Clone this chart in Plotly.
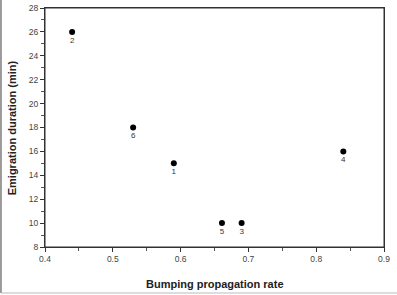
import plotly.graph_objects as go

rates = [0.59, 0.44, 0.69, 0.84, 0.661, 0.53]
durations = [15, 26, 10, 16, 10, 18]
labels = ["1", "2", "3", "4", "5", "6"]

x_ticks = [0.4, 0.5, 0.6, 0.7, 0.8, 0.9]
y_ticks = [8, 10, 12, 14, 16, 18, 20, 22, 24, 26, 28]

FONT = "Arial, Liberation Sans, sans-serif"

fig = go.Figure()
fig.add_trace(go.Scatter(
    x=rates, y=durations, mode="markers+text",
    text=labels, textposition="bottom center",
    textfont=dict(family=FONT, size=8, color="#333"),
    marker=dict(size=6, color="black"),
    showlegend=False, cliponaxis=False, hoverinfo="skip",
))

axis_common = dict(
    showgrid=False, zeroline=False, showline=True, linecolor="#333", linewidth=1,
    mirror=True, ticks="outside", ticklen=4, tickcolor="#333", tickwidth=1,
    tickfont=dict(family=FONT, size=8.5, color="#444"), automargin=False,
)

fig.update_xaxes(
    range=[0.4, 0.9], tickvals=x_ticks, ticktext=[str(v) for v in x_ticks],
    minor=dict(dtick=0.05, tick0=0.4, ticks="outside", ticklen=3, tickcolor="#555"),
    **axis_common,
)
fig.update_yaxes(
    range=[8, 28], tickvals=y_ticks, ticktext=[str(v) for v in y_ticks],
    minor=dict(dtick=1, tick0=8, ticks="outside", ticklen=3, tickcolor="#555"),
    **axis_common,
)

fig.update_layout(
    width=397, height=295,
    margin=dict(l=45, r=13, t=8, b=48),
    paper_bgcolor="white", plot_bgcolor="white",
    annotations=[
        dict(text="<b>Bumping propagation rate</b>", xref="paper", yref="paper",
             x=0.5, y=-0.12, xanchor="center", yanchor="top", showarrow=False,
             font=dict(family=FONT, size=11, color="#222")),
        dict(text="<b>Emigration duration (min)</b>", xref="paper", yref="paper",
             x=-0.098, y=0.5, xanchor="center", yanchor="middle", textangle=-90,
             showarrow=False, font=dict(family=FONT, size=11, color="#222")),
    ],
    shapes=[
        dict(type="rect", xref="paper", yref="paper", x0=0, x1=1, y0=0, y1=1,
             line=dict(color="#333", width=1)),
        dict(type="line", xref="paper", yref="paper", x0=-0.13, x1=-0.13, y0=-0.1925, y1=1.04,
             line=dict(color="#999", width=2)),
        dict(type="line", xref="paper", yref="paper", x0=-0.13, x1=1.04, y0=-0.1925, y1=-0.1925,
             line=dict(color="#bbb", width=1)),
    ],
)

fig.write_html(
    "out.html",
    config={"displayModeBar": False},
    post_script="document.body.style.margin='0';document.body.style.overflow='hidden';",
)
